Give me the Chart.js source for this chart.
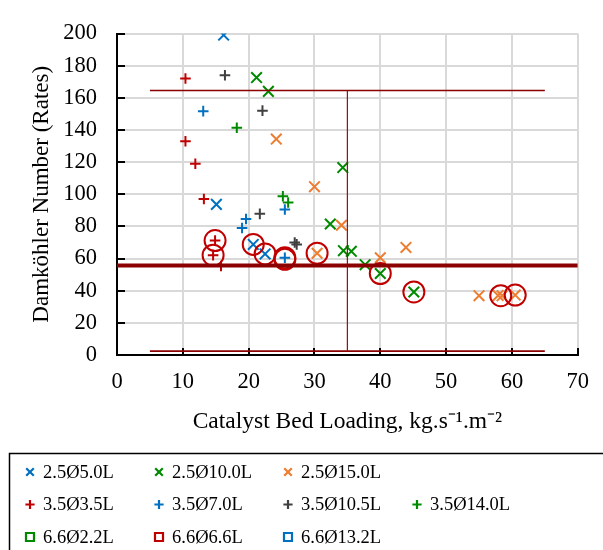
<!DOCTYPE html>
<html>
<head>
<meta charset="utf-8">
<title>Damköhler Number vs Catalyst Bed Loading</title>
<script src="https://cdn.jsdelivr.net/npm/chart.js@4.4.0/dist/chart.umd.min.js"></script>
<style>
  html, body { margin: 0; padding: 0; background: #fff; }
  #wrap { width: 603px; height: 550px; }
</style>
</head>
<body>
<div id="wrap"><canvas id="chart" width="603" height="550"></canvas></div>
<script>
// [catalyst bed loading, Damköhler number]
const s25d50 = [[16.2, 199], [15.1, 93.7], [20.7, 68.8], [22.5, 62.9]];
const s25d100 = [[21.2, 172.6], [23.0, 164], [34.3, 116.6], [32.4, 81.5], [34.4, 64.9],
                 [35.6, 64.5], [37.7, 56.2], [40.0, 50.7], [45.1, 39.2]];
const s25d150 = [[24.2, 134.3], [30.0, 104.7], [34.1, 80.7], [30.4, 63.3], [40.0, 60.5],
                 [43.9, 66.9], [55.0, 36.9], [57.9, 37.0], [58.5, 36.8], [60.5, 37.3]];
const s35d35 = [[10.4, 172], [10.4, 133], [11.9, 119], [13.2, 97], [14.9, 71.2],
                [14.6, 62.1], [15.8, 55.4]];
const s35d70 = [[13.1, 151.7], [19.6, 84.6], [19.0, 79], [25.5, 90.5], [25.5, 60.5]];
const s35d105 = [[16.4, 174], [22.1, 152], [21.7, 87.8], [27.0, 70], [27.3, 68.8]];
const s35d140 = [[18.2, 141.4], [25.2, 98.8], [26.0, 94.9]];
const s66d22 = [];
const s66d66 = [];
const s66d132 = [];

// highlighted runs (ringed)
const ringed = [[14.9, 71.2], [14.6, 62.1], [20.7, 68.8], [22.5, 62.9], [25.5, 60.5],
                [25.5, 59.5], [30.4, 63.3], [40.0, 50.7], [45.1, 39.2], [58.3, 36.9], [60.5, 37.3]];

// operating limits
const limitDa = 55.6;
const boxTopDa = 164.5;
const boxBottomDa = 2.4;
const boxLoadMin = 5, boxLoadMax = 65, loadCut = 35;

const seriesNames = ['2.5Ø5.0L', '2.5Ø10.0L', '2.5Ø15.0L', '3.5Ø3.5L', '3.5Ø7.0L',
                     '3.5Ø10.5L', '3.5Ø14.0L', '6.6Ø2.2L', '6.6Ø6.6L', '6.6Ø13.2L'];
const seriesData = [s25d50, s25d100, s25d150, s35d35, s35d70, s35d105, s35d140, s66d22, s66d66, s66d132];
const seriesColors = ['#0070C0', '#008A00', '#ED7D31', '#C00000', '#0070C0',
                      '#404040', '#008A00', '#008A00', '#C00000', '#0070C0'];
const seriesMarkers = ['crossRot', 'crossRot', 'crossRot', 'cross', 'cross',
                       'cross', 'cross', 'rect', 'rect', 'rect'];

const xTicks = [0, 10, 20, 30, 40, 50, 60, 70];
const yTicks = [0, 20, 40, 60, 80, 100, 120, 140, 160, 180, 200];

const SERIF = "'Liberation Serif', 'Times New Roman', serif";
Chart.defaults.font.family = SERIF;
Chart.defaults.color = '#000';

const pts = arr => arr.map(p => ({ x: p[0], y: p[1] }));

const datasets = [];
// limit lines on top
datasets.push({
  label: 'limit', data: pts([[xTicks[0], limitDa], [xTicks[xTicks.length - 1], limitDa]]),
  showLine: true, borderColor: '#8B0000', borderWidth: 4, pointRadius: 0, inLegend: false
});
datasets.push({
  label: 'box top', data: pts([[boxLoadMin, boxTopDa], [boxLoadMax, boxTopDa]]),
  showLine: true, borderColor: '#8B0000', borderWidth: 1.6, pointRadius: 0, inLegend: false
});
datasets.push({
  label: 'box cut', data: pts([[loadCut, boxTopDa], [loadCut, boxBottomDa]]),
  showLine: true, borderColor: '#9B1010', borderWidth: 1.2, pointRadius: 0, inLegend: false
});
datasets.push({
  label: 'box bottom', data: pts([[boxLoadMin, boxBottomDa], [boxLoadMax, boxBottomDa]]),
  showLine: true, borderColor: '#8B0000', borderWidth: 1.6, pointRadius: 0, inLegend: false
});
datasets.push({
  label: 'ringed', data: pts(ringed), pointStyle: 'circle', pointRadius: 10.5,
  borderColor: '#C00000', backgroundColor: 'rgba(0,0,0,0)', pointBorderWidth: 2, inLegend: false
});
seriesNames.forEach((name, i) => {
  datasets.push({
    label: name, data: pts(seriesData[i]), pointStyle: seriesMarkers[i],
    pointRadius: seriesMarkers[i] === 'crossRot' ? 7.5 : 5.3,
    borderColor: seriesColors[i], backgroundColor: seriesColors[i], pointBorderWidth: 2,
    inLegend: true
  });
});

// tick marks on the inside of the axes
const insideTicks = {
  id: 'insideTicks',
  beforeDatasetsDraw(chart) {
    const { ctx, chartArea: a, scales: { x, y } } = chart;
    ctx.save();
    ctx.strokeStyle = '#000';
    ctx.lineWidth = 2;
    ctx.beginPath();
    yTicks.forEach(v => {
      const py = Math.round(y.getPixelForValue(v));
      ctx.moveTo(a.left, py); ctx.lineTo(a.left + 8, py);
    });
    xTicks.forEach(v => {
      const px = Math.round(x.getPixelForValue(v));
      ctx.moveTo(px, a.bottom); ctx.lineTo(px, a.bottom - 7);
    });
    ctx.stroke();
    ctx.restore();
  }
};

function drawMarker(ctx, style, cx, cy, color) {
  ctx.save();
  ctx.strokeStyle = color;
  ctx.lineWidth = 2.2;
  ctx.beginPath();
  if (style === 'crossRot') {
    const d = 3.8;
    ctx.moveTo(cx - d, cy - d); ctx.lineTo(cx + d, cy + d);
    ctx.moveTo(cx + d, cy - d); ctx.lineTo(cx - d, cy + d);
  } else if (style === 'cross') {
    const d = 4.6;
    ctx.moveTo(cx - d, cy); ctx.lineTo(cx + d, cy);
    ctx.moveTo(cx, cy - d); ctx.lineTo(cx, cy + d);
  } else {
    ctx.rect(cx - 4, cy - 4, 8, 8);
  }
  ctx.stroke();
  ctx.restore();
}

// boxed legend below the plot, three rows
const legendRows = [[0, 1, 2], [3, 4, 5, 6], [7, 8, 9]];
const boxLegend = {
  id: 'boxLegend',
  afterDraw(chart) {
    const { ctx } = chart;
    const items = chart.data.datasets.filter(d => d.inLegend);
    ctx.save();
    ctx.strokeStyle = '#000';
    ctx.lineWidth = 1.5;
    ctx.strokeRect(9.5, 453.5, 700, 200);
    ctx.font = '18.5px ' + SERIF;
    ctx.fillStyle = '#000';
    ctx.textBaseline = 'middle';
    legendRows.forEach((row, r) => {
      const cy = 472 + r * 32.5;
      row.forEach((idx, c) => {
        const ds = items[idx];
        const mx = 30 + c * 129;
        drawMarker(ctx, ds.pointStyle, mx, cy, ds.borderColor);
        ctx.fillText(ds.label, mx + 13, cy + 1);
      });
    });
    ctx.restore();
  }
};

new Chart(document.getElementById('chart'), {
  type: 'scatter',
  data: { datasets },
  options: {
    responsive: false,
    devicePixelRatio: 1,
    animation: false,
    events: [],
    layout: { padding: { left: 0, right: 15, top: 17, bottom: 110 } },
    plugins: { legend: { display: false }, tooltip: { enabled: false } },
    scales: {
      x: {
        type: 'linear', min: 0, max: 70,
        afterFit: s => { s.height = 85; },
        ticks: { stepSize: 10, padding: 14, font: { size: 22.5 }, color: '#000' },
        grid: { color: '#D9D9D9', lineWidth: 2, drawTicks: false },
        border: { color: '#000', width: 2 },
        title: {
          display: true, text: 'Catalyst Bed Loading, kg.s⁻¹.m⁻²',
          font: { size: 23.5, lineHeight: 1.2 }, color: '#000', padding: { top: 12 }
        }
      },
      y: {
        type: 'linear', min: 0, max: 200,
        afterFit: s => { s.width = 117; },
        ticks: { stepSize: 20, padding: 20, font: { size: 22.5 }, color: '#000' },
        grid: { color: '#D9D9D9', lineWidth: 2, drawTicks: false },
        border: { color: '#000', width: 2 },
        title: {
          display: true, text: 'Damköhler Number (Rates)',
          font: { size: 23, lineHeight: 1.2 }, color: '#000', padding: { top: 28 }
        }
      }
    }
  },
  plugins: [insideTicks, boxLegend]
});
</script>
</body>
</html>
